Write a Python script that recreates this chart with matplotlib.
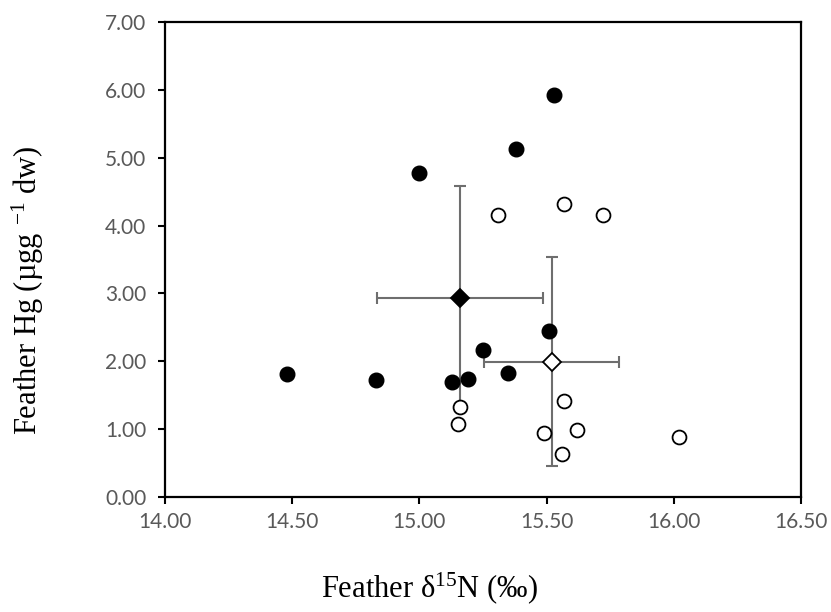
import numpy as np
import matplotlib.pyplot as plt

# filled circles
filled_n = [14.48, 14.83, 15.00, 15.38, 15.53, 15.13, 15.19, 15.25, 15.35, 15.51]
filled_hg = [1.81, 1.72, 4.78, 5.13, 5.92, 1.70, 1.74, 2.17, 1.83, 2.44]

# open circles
open_n = [15.31, 15.57, 15.72, 15.16, 15.15, 15.49, 15.57, 15.62, 15.56, 16.02]
open_hg = [4.15, 4.32, 4.15, 1.33, 1.08, 0.94, 1.41, 0.99, 0.64, 0.88]

# group means with SD
mean_filled = (15.16, 2.93)
err_filled = (0.325, 1.65)
mean_open = (15.52, 1.99)
err_open = (0.265, 1.54)

plt.rcParams['mathtext.fontset'] = 'custom'
plt.rcParams['mathtext.rm'] = 'Liberation Serif'
plt.rcParams['mathtext.it'] = 'Liberation Serif:italic'

fig = plt.figure(figsize=(8.31, 6.12), dpi=100)
ax = fig.add_axes([165 / 831, 1 - 497 / 612, (801 - 165) / 831, (497 - 22) / 612])

bar_col = '#6e6e6e'
for (mx, my), (ex, ey), face in [(mean_filled, err_filled, 'black'), (mean_open, err_open, 'white')]:
    ax.errorbar(mx, my, xerr=ex, yerr=ey, fmt='none', ecolor=bar_col,
                elinewidth=1.5, capsize=4.5, capthick=1.5, zorder=1)
    ax.plot(mx, my, 'D', markersize=9, markerfacecolor=face,
            markeredgecolor='black', markeredgewidth=1.3, zorder=4)

ax.plot(filled_n, filled_hg, 'o', markersize=10.5, markerfacecolor='black',
        markeredgecolor='black', zorder=3)
ax.plot(open_n, open_hg, 'o', markersize=10, markerfacecolor='white',
        markeredgecolor='black', markeredgewidth=1.3, zorder=3)

ax.set_xlim(14.0, 16.5)
ax.set_ylim(0, 7)
ax.set_xticks(np.arange(14.0, 16.51, 0.5))
ax.set_yticks(np.arange(0, 7.01, 1.0))
ax.xaxis.set_major_formatter(plt.FormatStrFormatter('%.2f'))
ax.yaxis.set_major_formatter(plt.FormatStrFormatter('%.2f'))

for s in ax.spines.values():
    s.set_linewidth(1.6)
    s.set_color('black')
ax.tick_params(direction='out', length=5, width=1.5,
               labelsize=15, labelcolor='#595959')
ax.tick_params(axis='x', pad=6)
ax.tick_params(axis='y', pad=8.5)
for lab in ax.get_xticklabels() + ax.get_yticklabels():
    lab.set_family('Lato')

fig.text(429 / 831, 1 - 588 / 612, 'Feather δ$^{15}$N (‰)', ha='center', va='center',
         family='Liberation Serif', fontsize=22)
fig.text(28 / 831, 1 - 290 / 612, 'Feather Hg (µgg $^{-1}$ dw)', ha='center', va='center',
         rotation=90, family='Liberation Serif', fontsize=22)

fig.savefig('out.png', dpi=100)
